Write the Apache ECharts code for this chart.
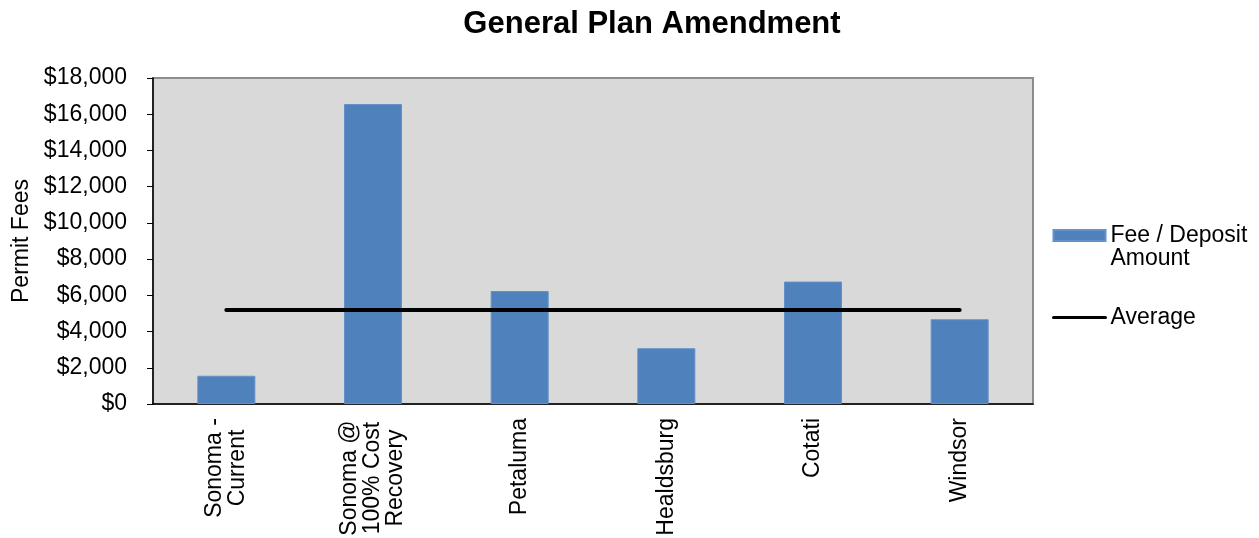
<!DOCTYPE html>
<html>
<head>
<meta charset="utf-8">
<script src="https://cdn.jsdelivr.net/npm/echarts@6/dist/echarts.min.js"></script>
<style>html,body{margin:0;padding:0;background:#fff;}#chart{width:1259px;height:538px;}</style>
</head>
<body>
<div id="chart"></div>
<script>
var categories = ['Sonoma -\nCurrent', 'Sonoma @\n100% Cost\nRecovery', 'Petaluma', 'Healdsburg', 'Cotati', 'Windsor'];
var feeValues = [1560, 16560, 6240, 3080, 6760, 4680];
var averageValues = [5190, 5190, 5190, 5190, 5190, 5190];
var yTicks = { min: 0, max: 18000, interval: 2000 };

var FONT = '"Liberation Sans", Arial, Helvetica, sans-serif';
var FS = 23;
var chart = echarts.init(document.getElementById('chart'));
var blockWidths = [100, 120];
var rich = {};
blockWidths.forEach(function (w, i) {
  rich['c' + i] = { width: w, align: 'center', fontSize: FS, lineHeight: 23, color: '#000', fontFamily: FONT };
});
chart.setOption({
  animation: false,
  backgroundColor: '#fff',
  title: {
    text: 'General Plan Amendment',
    left: 647, top: 4, textAlign: 'center',
    textStyle: { fontFamily: FONT, fontWeight: 'bold', fontSize: 31, color: '#000' }
  },
  grid: {
    left: 153, right: 226, top: 78, bottom: 134,
    outerBoundsMode: 'none', containLabel: false,
    show: true, backgroundColor: '#d9d9d9', borderColor: '#8c8c8c', borderWidth: 2
  },
  legend: {
    orient: 'vertical', left: 1047, top: 196, itemGap: 36,
    itemWidth: 52, itemHeight: 11,
    textStyle: {
      fontFamily: FONT, fontSize: FS, lineHeight: 23, color: '#000',
      rich: {
        e: { height: 23, lineHeight: 23, fontSize: FS },
        t: { fontFamily: FONT, fontSize: FS, lineHeight: 23, color: '#000' }
      }
    },
    formatter: function (name) {
      if (name.indexOf('\n') < 0) return name;
      return '{e| }\n' + name.split('\n').map(function (l) { return '{t|' + l + '}'; }).join('\n');
    },
    data: [
      { name: 'Fee / Deposit\nAmount', icon: 'rect' },
      { name: 'Average', itemStyle: { opacity: 0 }, lineStyle: { width: 3, color: '#000' } }
    ]
  },
  xAxis: {
    type: 'category', data: categories,
    axisLine: { lineStyle: { color: '#000', width: 1.5 } },
    axisTick: { length: 6, lineStyle: { color: '#000' } },
    axisLabel: {
      rotate: 90, margin: 14, interval: 0, color: '#000', fontFamily: FONT, fontSize: FS, lineHeight: 23,
      formatter: function (v) {
        if (v.indexOf('\n') < 0) return v;
        var idx = categories.indexOf(v);
        return v.split('\n').map(function (l) { return '{c' + idx + '|' + l + '}'; }).join('\n');
      },
      rich: rich
    }
  },
  yAxis: {
    type: 'value', min: yTicks.min, max: yTicks.max, interval: yTicks.interval,
    name: 'Permit Fees', nameLocation: 'middle', nameGap: 118,
    nameTextStyle: { fontFamily: FONT, fontSize: FS, color: '#000' },
    splitLine: { show: false },
    axisLine: { show: true, lineStyle: { color: '#000', width: 1.5 } },
    axisTick: { show: true, length: 6, lineStyle: { color: '#000' } },
    axisLabel: {
      margin: 26, color: '#000', fontFamily: FONT, fontSize: FS,
      formatter: function (v) { return '$' + v.toLocaleString('en-US'); }
    }
  },
  series: [
    {
      name: 'Fee / Deposit\nAmount', type: 'bar', data: feeValues, barWidth: 58,
      itemStyle: { color: '#4f81bd', borderColor: '#6690c8', borderWidth: 1 }
    },
    {
      name: 'Average', type: 'line', data: averageValues, symbol: 'none',
      lineStyle: { color: '#000', width: 4, cap: 'round' },
      itemStyle: { color: '#000' }
    }
  ]
});
</script>
</body>
</html>
